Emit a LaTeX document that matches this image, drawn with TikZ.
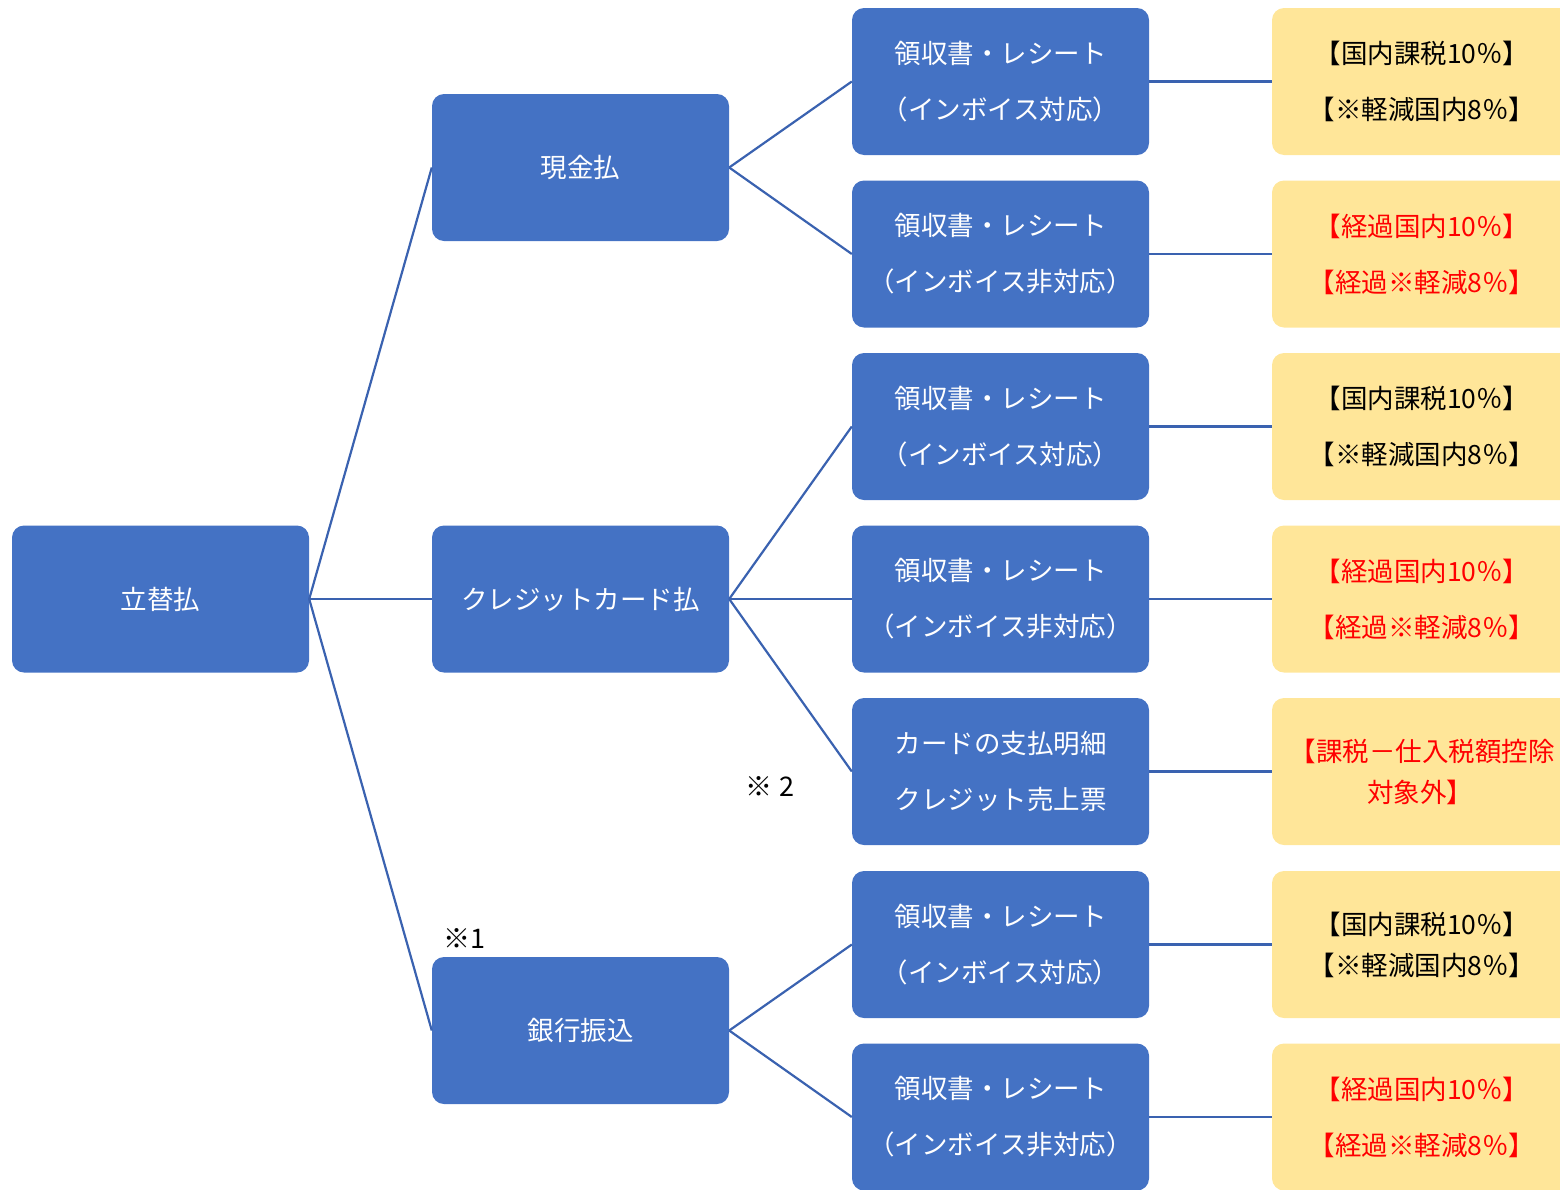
\documentclass[tikz,border=0pt]{standalone}
\usepackage{fontspec}
\setmainfont{Noto Sans CJK JP}
\definecolor{boxblue}{HTML}{4472C4}
\definecolor{lineblue}{HTML}{3A62B0}
\definecolor{boxyellow}{HTML}{FFE699}
\definecolor{txtred}{HTML}{FF0000}
\tikzset{
  bluebox/.style={rectangle, rounded corners=12pt, fill=boxblue, draw=none, text=white,
    minimum width=297pt, minimum height=147pt, align=center, inner sep=0pt,
    font=\fontsize{26.5}{56}\selectfont},
  yelbox/.style={rectangle, rounded corners=12pt, fill=boxyellow, draw=none, text=black,
    minimum width=300pt, minimum height=147pt, align=center, inner sep=0pt,
    font=\fontsize{26.5}{56}\selectfont},
  tight/.style={font=\fontsize{26.5}{41}\selectfont},
  conn/.style={draw=lineblue, line width=2.2pt},
  note/.style={text=black, font=\fontsize{27}{30}\selectfont, inner sep=0pt}
}
\begin{document}
\begin{tikzpicture}[x=1pt,y=-1pt]
\useasboundingbox (0,0) rectangle (1560,1189);
\clip (0,0) rectangle (1560,1189);
% column 1
\node[bluebox] (root) at (160.5,599) {立替払};
% column 2
\node[bluebox] (cash) at (580.5,167.5) {現金払};
\node[bluebox] (card) at (580.5,599) {クレジットカード払};
\node[bluebox] (bank) at (580.5,1030.5) {銀行振込};
% column 3
\node[bluebox] (r1) at (1000.5,81.5) {領収書・レシート\\（インボイス対応）};
\node[bluebox] (r2) at (1000.5,254) {領収書・レシート\\（インボイス非対応）};
\node[bluebox] (r3) at (1000.5,426.5) {領収書・レシート\\（インボイス対応）};
\node[bluebox] (r4) at (1000.5,599) {領収書・レシート\\（インボイス非対応）};
\node[bluebox] (r5) at (1000.5,771.5) {カードの支払明細\\クレジット売上票};
\node[bluebox] (r6) at (1000.5,944.5) {領収書・レシート\\（インボイス対応）};
\node[bluebox] (r7) at (1000.5,1117) {領収書・レシート\\（インボイス非対応）};
% column 4
\node[yelbox] (y1) at (1422,81.5) {【国内課税10％】\\【※軽減国内8％】};
\node[yelbox, text=txtred] (y2) at (1422,254) {【経過国内10％】\\【経過※軽減8％】};
\node[yelbox] (y3) at (1422,426.5) {【国内課税10％】\\【※軽減国内8％】};
\node[yelbox, text=txtred] (y4) at (1422,599) {【経過国内10％】\\【経過※軽減8％】};
\node[yelbox, tight, text=txtred] (y5) at (1422,771.5) {【課税－仕入税額控除\\\hspace*{-4pt}対象外】};
\node[yelbox, tight] (y6) at (1422,944.5) {【国内課税10％】\\【※軽減国内8％】};
\node[yelbox, text=txtred] (y7) at (1422,1117) {【経過国内10％】\\【経過※軽減8％】};
% notes
\node[note] (n2) at (770,786) {※ 2};
\node[note] (n1) at (464,938) {※1};
% connectors
\draw[conn] (root.east) -- (cash.west);
\draw[conn] (root.east) -- (card.west);
\draw[conn] (root.east) -- (bank.west);
\draw[conn] (cash.east) -- (r1.west);
\draw[conn] (cash.east) -- (r2.west);
\draw[conn] (card.east) -- (r3.west);
\draw[conn] (card.east) -- (r4.west);
\draw[conn] (card.east) -- (r5.west);
\draw[conn] (bank.east) -- (r6.west);
\draw[conn] (bank.east) -- (r7.west);
\draw[conn] (r1.east) -- (y1.west);
\draw[conn] (r2.east) -- (y2.west);
\draw[conn] (r3.east) -- (y3.west);
\draw[conn] (r4.east) -- (y4.west);
\draw[conn] (r5.east) -- (y5.west);
\draw[conn] (r6.east) -- (y6.west);
\draw[conn] (r7.east) -- (y7.west);
\end{tikzpicture}
\end{document}
